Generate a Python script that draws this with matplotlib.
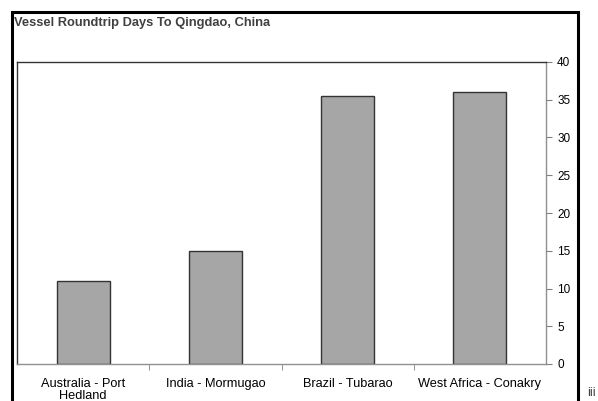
import matplotlib.pyplot as plt
from matplotlib.patches import Rectangle
import numpy as np

# Dados
categorias = ['Australia - Port\nHedland', 'India - Mormugao', 'Brazil - Tubarao', 'West Africa - Conakry']
dias = [11, 15, 35.5, 36]
y_ticks = [0, 5, 10, 15, 20, 25, 30, 35, 40]

plt.rcParams['font.family'] = ['Liberation Sans', 'DejaVu Sans']

W, H = 598, 401
fig = plt.figure(figsize=(W / 100, H / 100), dpi=100)

# Moldura externa
fig.patches.append(Rectangle((12 / W, -0.05), 566 / W, 1.05 - 12 / H,
                             transform=fig.transFigure, fill=False,
                             edgecolor='black', linewidth=2.2))

fig.text(14 / W, 1 - 23 / H, 'Vessel Roundtrip Days To Qingdao, China',
         fontsize=9.3, fontweight='bold', color='#404040', va='center')
fig.text(587 / W, 1 - 393 / H, 'iii', fontsize=9, color='#404040', va='center')

ax = fig.add_axes([17 / W, 1 - 364 / H, 529 / W, 302 / H])
x = np.arange(len(categorias))
ax.bar(x, dias, width=0.4, color='#a6a6a6', edgecolor='#333333', linewidth=1.0)

ax.set_xlim(-0.5, len(categorias) - 0.5)
ax.set_ylim(0, 40)
ax.yaxis.tick_right()
ax.set_yticks(y_ticks)
ax.tick_params(axis='y', direction='out', length=4, color='#808080',
               labelsize=8.5, pad=4)

ax.set_xticks(x)
ax.set_xticklabels(categorias, fontsize=9.2, linespacing=1.0)
ax.set_xticks(np.arange(0.5, len(categorias) - 1, 1), minor=True)
ax.tick_params(axis='x', which='major', length=0, pad=10)
ax.tick_params(axis='x', which='minor', direction='out', length=4, color='#808080')

ax.spines['top'].set_color('#333333')
ax.spines['left'].set_color('#333333')
ax.spines['right'].set_color('#909090')
ax.spines['bottom'].set_color('#909090')
for s in ax.spines.values():
    s.set_linewidth(1.0)

fig.savefig('out.png', dpi=100)
